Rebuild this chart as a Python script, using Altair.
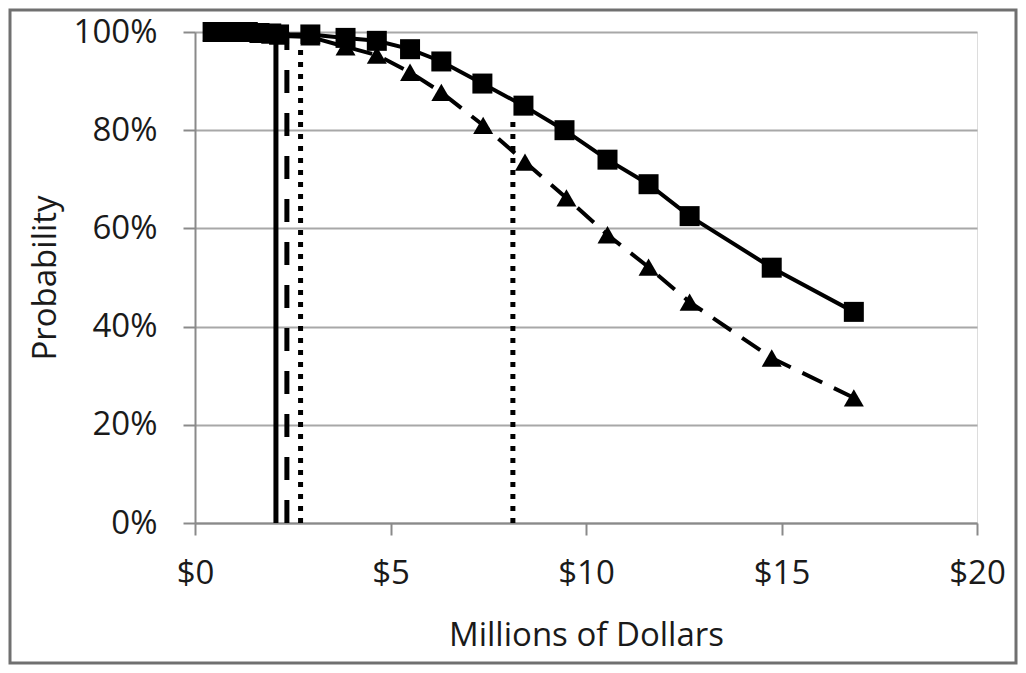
import altair as alt
import pandas as pd

# Solid series (squares)
sq_x = [0.45, 0.75, 1.05, 1.35, 1.65, 1.95, 2.15, 2.95, 3.85, 4.65, 5.5, 6.3, 7.35, 8.4, 9.45, 10.55, 11.6, 12.65, 14.75, 16.85]
sq_y = [1.0, 1.0, 1.0, 1.0, 0.998, 0.997, 0.995, 0.995, 0.988, 0.982, 0.965, 0.94, 0.895, 0.85, 0.80, 0.74, 0.69, 0.625, 0.52, 0.43]

# Dashed series (triangles)
tri_x = [0.45, 0.75, 1.05, 1.35, 1.65, 1.95, 2.15, 2.95, 3.85, 4.65, 5.5, 6.3, 7.37, 8.44, 9.5, 10.55, 11.6, 12.65, 14.75, 16.85]
tri_y = [1.0, 1.0, 1.0, 0.998, 0.996, 0.994, 0.992, 0.99, 0.97, 0.953, 0.918, 0.877, 0.81, 0.735, 0.662, 0.587, 0.521, 0.45, 0.336, 0.255]

# Vertical reference lines
vsolid_x, vsolid_top = [2.07], [1.0]
vdash_x, vdash_top = [2.35], [1.0]
vdot_x, vdot_top = [2.7, 8.13], [0.97, 0.83]

FONT = "Open Sans"
W, H = 782, 491

sq = pd.DataFrame({"x": sq_x, "y": sq_y})
tri = pd.DataFrame({"x": tri_x, "y": tri_y})
vs = pd.DataFrame({"x": vsolid_x, "top": vsolid_top, "bottom": [0.0] * len(vsolid_x)})
vd = pd.DataFrame({"x": vdash_x, "top": vdash_top, "bottom": [0.0] * len(vdash_x)})
vt = pd.DataFrame({"x": vdot_x, "top": vdot_top, "bottom": [0.0] * len(vdot_x)})

xscale = alt.Scale(domain=[0, 20], nice=False, zero=False)
yscale = alt.Scale(domain=[0, 1], nice=False)

xaxis = alt.Axis(values=[0, 5, 10, 15, 20], format="$.0f", title="Millions of Dollars",
                 grid=False, domainColor="#8a8a8a", domainWidth=2, tickColor="#8a8a8a",
                 tickWidth=2, tickSize=12, labelFont=FONT, labelFontSize=33, labelColor="#1a1a1a",
                 labelBaseline="alphabetic", labelPadding=48, labelFlush=False,
                 titleFont=FONT, titleFontSize=33, titleFontWeight="normal", titleColor="#1a1a1a",
                 titleBaseline="alphabetic", titleY=122, titleX=W / 2, titleAlign="center")
yaxis = alt.Axis(values=[0, 0.2, 0.4, 0.6, 0.8, 1.0], format=".0%", title="Probability",
                 grid=True, gridColor="#a8a8a8", gridWidth=2, domainColor="#8a8a8a", domainWidth=2,
                 tickColor="#8a8a8a", tickWidth=2, tickSize=12, labelFont=FONT, labelFontSize=33,
                 labelColor="#1a1a1a", labelPadding=26, labelFlush=False,
                 titleFont=FONT, titleFontSize=33, titleFontWeight="normal", titleColor="#1a1a1a",
                 titleAngle=270, titleBaseline="alphabetic", titleAlign="center",
                 titleX=-140, titleY=H / 2)

base_axes = alt.Chart(sq).mark_point(opacity=0).encode(
    x=alt.X("x:Q", scale=xscale, axis=xaxis),
    y=alt.Y("y:Q", scale=yscale, axis=yaxis),
)

enc_x = alt.X("x:Q", scale=xscale)
enc_y = alt.Y("y:Q", scale=yscale)

sq_line = alt.Chart(sq).mark_line(color="black", strokeWidth=4).encode(x=enc_x, y=enc_y)
tri_line = alt.Chart(tri).mark_line(color="black", strokeWidth=4, strokeDash=[22, 13]).encode(x=enc_x, y=enc_y)

v_solid = alt.Chart(vs).mark_rule(color="black", strokeWidth=5).encode(
    x=enc_x, y=alt.Y("top:Q", scale=yscale), y2="bottom:Q")
v_dash = alt.Chart(vd).mark_rule(color="black", strokeWidth=5, strokeDash=[23, 20]).encode(
    x=enc_x, y=alt.Y("bottom:Q", scale=yscale), y2="top:Q")
v_dot = alt.Chart(vt).mark_rule(color="black", strokeWidth=5, strokeDash=[5, 7]).encode(
    x=enc_x, y=alt.Y("bottom:Q", scale=yscale), y2="top:Q")

tri_pts = alt.Chart(tri).mark_point(shape="triangle-up", filled=True, color="black", size=400, opacity=1).encode(x=enc_x, y=enc_y)
sq_pts = alt.Chart(sq).mark_point(shape="square", filled=True, color="black", size=400, opacity=1).encode(x=enc_x, y=enc_y)

# outer frame around the whole figure
frame = alt.Chart(pd.DataFrame({"k": [0]})).mark_rect(
    fill=None, stroke="#707070", strokeWidth=3, clip=False
).encode(x=alt.value(-185), x2=alt.value(821), y=alt.value(-22), y2=alt.value(631))

chart = alt.layer(base_axes, v_solid, v_dash, v_dot, tri_line, sq_line, tri_pts, sq_pts, frame).properties(
    width=W, height=H,
    padding={"left": 187, "top": 24, "right": 41, "bottom": 142},
    autosize=alt.AutoSizeParams(type="none"),
).configure_view(stroke=None).configure(background="white")

chart.save("out.html", embed_options={"renderer": "svg", "actions": False})
